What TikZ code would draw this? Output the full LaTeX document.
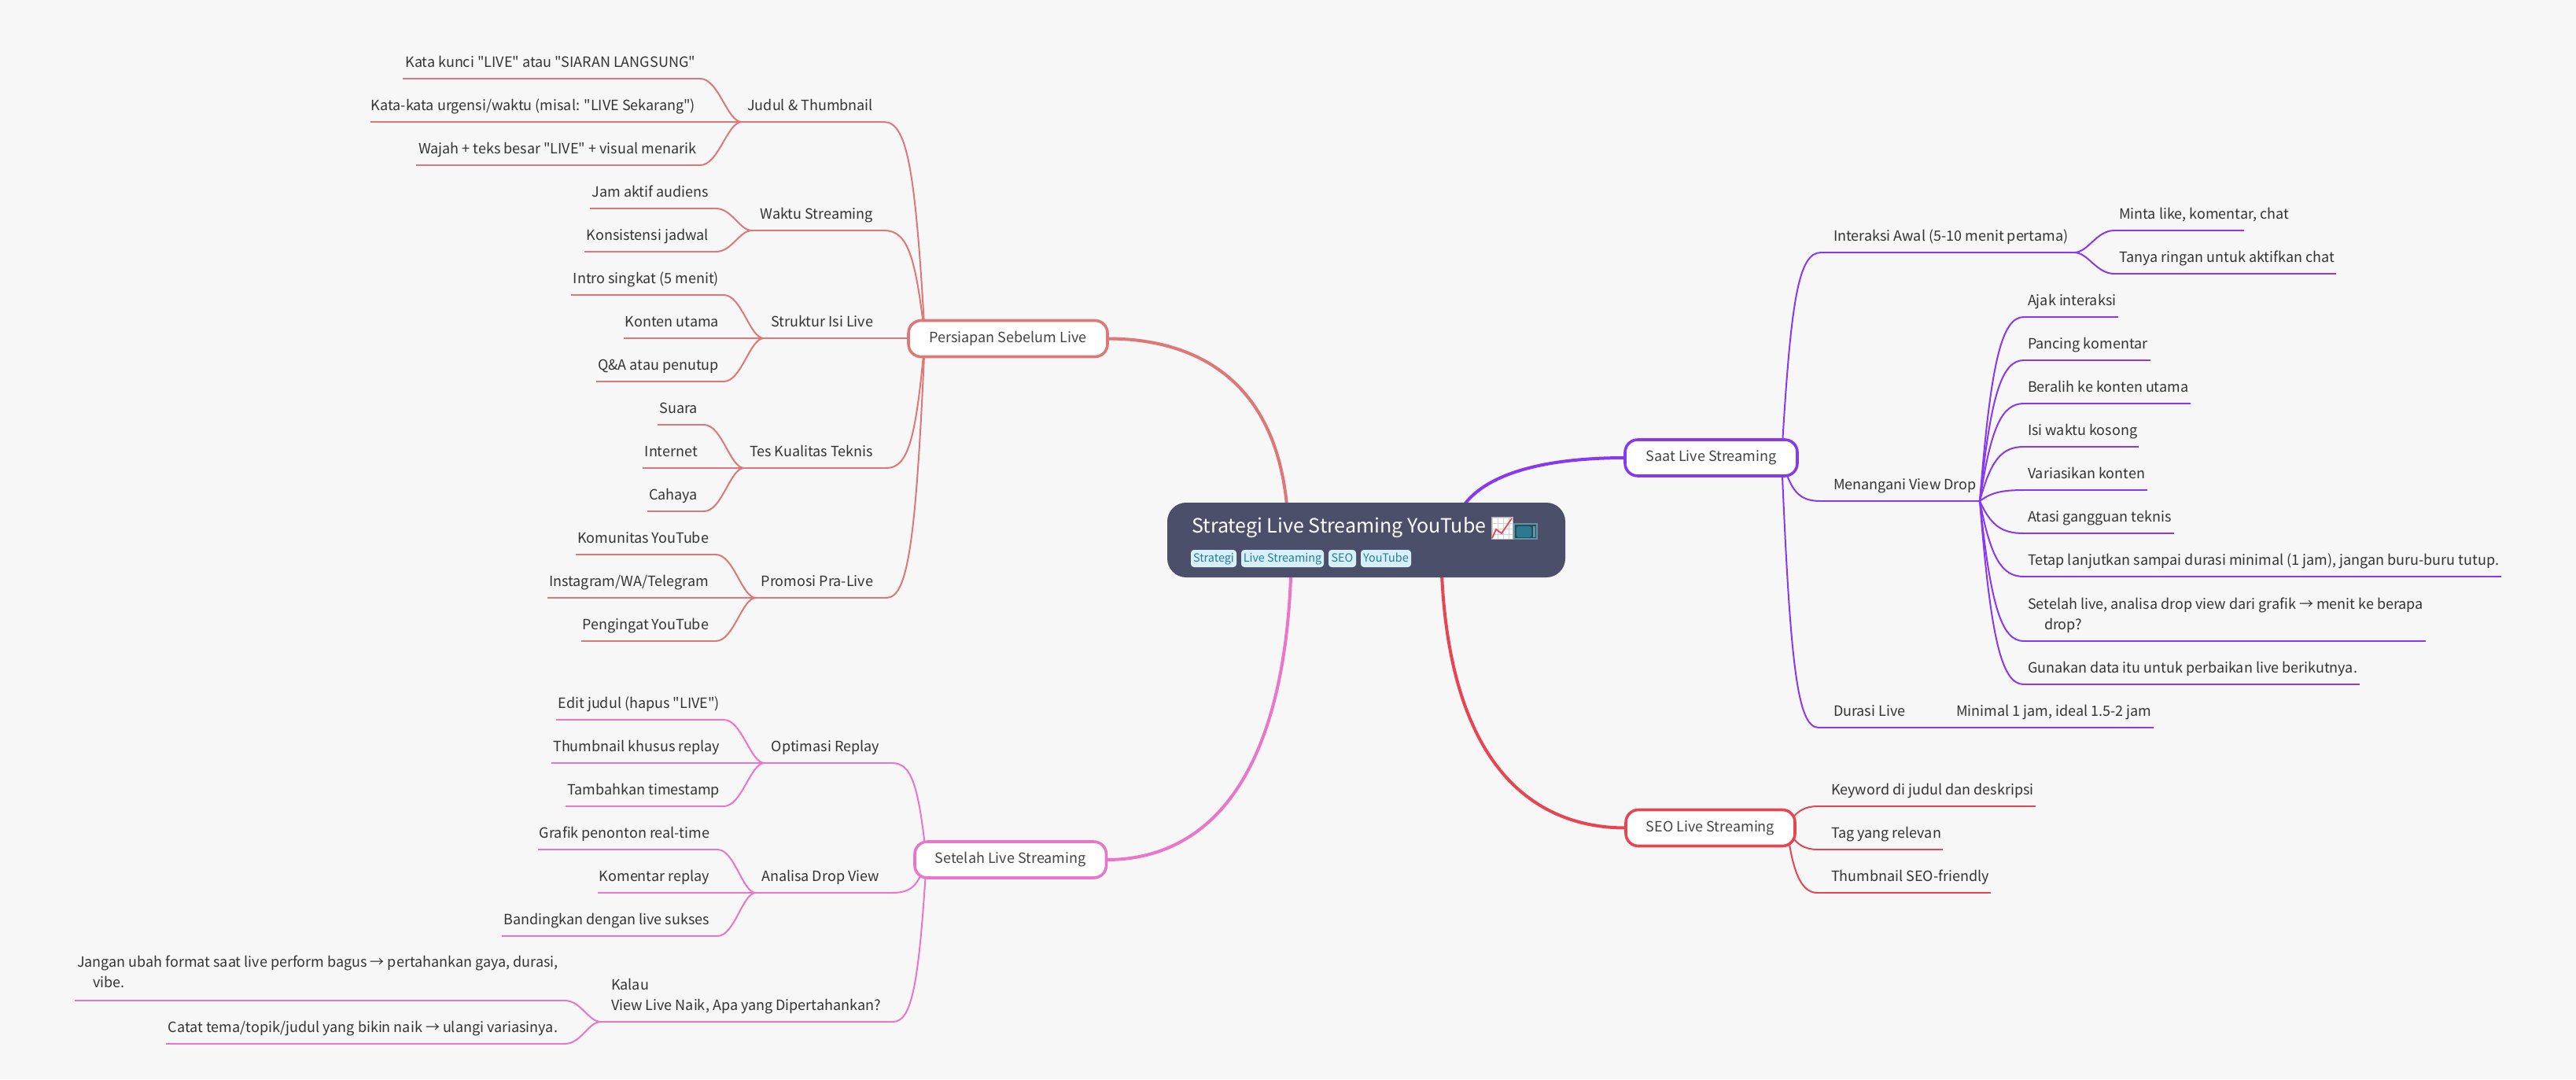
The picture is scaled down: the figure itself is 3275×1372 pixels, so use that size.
\documentclass[tikz,border=0pt]{standalone}
\usepackage{fontspec}
\newfontfamily\srcfont{Noto Sans CJK SC}
\usetikzlibrary{calc}
\pgfdeclarelayer{bottom}
\pgfdeclarelayer{lines}
\pgfsetlayers{bottom,lines,main}
\definecolor{csal}{HTML}{DD7878}
\definecolor{cpur}{HTML}{8839EF}
\definecolor{cred}{HTML}{E64553}
\definecolor{cpin}{HTML}{EA76CB}
\definecolor{croot}{HTML}{4C4F69}
\definecolor{cbg}{HTML}{F7F7F7}
\definecolor{ctext}{HTML}{333333}
\definecolor{cmain}{HTML}{444444}
\definecolor{ctag}{HTML}{D6F0F8}
\definecolor{ctagt}{HTML}{2A7A98}
\definecolor{tvframe}{HTML}{5E95A8}
\definecolor{tvbody}{HTML}{2B4A5A}
\definecolor{tvscreen}{HTML}{2B7A90}
\tikzset{
  lab/.style={inner sep=0pt,outer sep=0pt,text=ctext,font=\srcfont\fontsize{9}{13}\selectfont},
  lsal/.style={draw=csal,line width=1pt},
  lpur/.style={draw=cpur,line width=1pt},
  lred/.style={draw=cred,line width=1pt},
  lpin/.style={draw=cpin,line width=1pt},
  trunk/.style={line width=2pt},
  mainbox/.style={rectangle,rounded corners=8pt,fill=white,line width=1.8pt,inner sep=0pt,outer sep=0pt,
    text=cmain,font=\srcfont\fontsize{9}{13}\selectfont,minimum height=23pt,text height=7pt,text depth=2.5pt},
  tagbox/.style={rectangle,rounded corners=2pt,fill=ctag,text=ctagt,inner sep=0pt,outer sep=0pt,
    font=\srcfont\fontsize{7.2}{10}\selectfont,minimum height=11pt,text height=6pt,text depth=1.6pt},
}
% style, name, anchor, text x, line y, line x0, line x1, text
\newcommand{\tleaf}[8]{%
  \node[lab,anchor=base #3] (#2) at (#4,#5-15) {#8};
  \coordinate (#2-a) at (#6,#5);
  \coordinate (#2-b) at (#7,#5);
  \begin{pgfonlayer}{lines}\draw[#1] (#2-a) -- (#2-b);\end{pgfonlayer}}
% style, from, to, p, q, r
\newcommand{\clink}[6]{%
  \path ($(#2)!#4!(#3|-#2)$) coordinate (u1) ($(#2)!#5!(#3|-#2)$) coordinate (u2) ($(#2)!#6!(#2|-#3)$) coordinate (u3);
  \begin{pgfonlayer}{lines}\draw[#1] (#2) .. controls (u1) and (u2|-u3) .. (#3);\end{pgfonlayer}}
\newcommand{\sbranch}[3]{\clink{#1}{#2}{#3}{.58}{.77}{.24}}
\newcommand{\sleaf}[3]{\clink{#1}{#2}{#3}{.45}{.65}{1}}
\newcommand{\two}[2]{\vbox{\baselineskip=13pt\lineskiplimit=-20pt\hbox{#1}\hbox{#2}}}
\begin{document}
\begin{tikzpicture}[x=0.5pt,y=-0.5pt]
\useasboundingbox (0,0) rectangle (3275,1372);
\begin{pgfonlayer}{bottom}\fill[cbg] (0,0) rectangle (3275,1372);\end{pgfonlayer}

% root
\node[rectangle,fill=croot,rounded corners=12pt,minimum width=253pt,minimum height=47.5pt,inner sep=0pt] (root) at (1737,686.5) {};
\node[anchor=base west,inner sep=0pt,text=white,font=\srcfont\fontsize{12.5}{16}\selectfont] (title) at (1515,677) {Strategi Live Streaming YouTube};
\node[tagbox,minimum width=29pt] (t1) at (1543,710) {Strategi};
\node[tagbox,minimum width=52.5pt] (t2) at (1630.5,710) {Live Streaming};
\node[tagbox,minimum width=17.5pt] (t3) at (1706.5,710) {SEO};
\node[tagbox,minimum width=32pt] (t4) at (1762,710) {YouTube};
% chart emoji
\fill[white] (1896,657) rectangle (1923,685);
\draw[gray!35,line width=.3pt,step=3.5pt] (1896,657) grid (1923,685);
\draw[gray!60,line width=.5pt] (1896,657) rectangle (1923,685);
\draw[cred,line width=.9pt] (1897,684) -- (1902,673) -- (1909,678) -- (1922,659);
% tv emoji
\fill[tvbody] (1925,666) rectangle (1954,685);
\draw[tvframe,line width=.6pt] (1925,666) rectangle (1954,685);
\fill[tvscreen,rounded corners=1.5pt] (1928,669) rectangle (1947,683);
\fill[tvframe] (1949,669) rectangle (1952,683);

\coordinate (rootP) at (1638,686);
\coordinate (rootA) at (1642,686);
\coordinate (rootB) at (1832,686);
\coordinate (rootC) at (1846,690);

% main nodes
\node[mainbox,draw=csal,minimum width=126.5pt] (per) at (1281.5,430.5) {Persiapan Sebelum Live\hspace{1.5pt}};
\node[mainbox,draw=cpur,minimum width=109.5pt] (saat) at (2175.5,582) {Saat Live Streaming\hspace{2pt}};
\node[mainbox,draw=cred,minimum width=107.5pt] (seo) at (2174.5,1052.5) {SEO Live Streaming\hspace{2.5pt}};
\node[mainbox,draw=cpin,minimum width=121.75pt] (set) at (1284.75,1093) {Setelah Live Streaming\hspace{2.5pt}};

\clink{lsal,trunk}{per.east}{rootP}{.54}{1}{.25}
\clink{lpin,trunk}{set.east}{rootA}{.54}{1}{.25}
\clink{lpur,trunk}{saat.west}{rootC}{.54}{1}{.25}
\clink{lred,trunk}{seo.west}{rootB}{.54}{1}{.25}

\coordinate (perIn) at (1176,430);
\coordinate (setIn) at (1178,1093);
\coordinate (saatIn) at (2265,582);
\coordinate (seoIn) at (2272,1052);

% Persiapan
\tleaf{lsal}{b1}{east}{1110}{155}{943}{1124}{Judul \& Thumbnail}
\sbranch{lsal}{b1-b}{perIn}
\tleaf{lsal}{l11}{east}{884}{100}{512}{890}{Kata kunci "LIVE" atau "SIARAN LANGSUNG"}
\tleaf{lsal}{l12}{east}{884}{155}{471}{943}{Kata-kata urgensi/waktu (misal: "LIVE Sekarang")}
\tleaf{lsal}{l13}{east}{885}{210}{529}{890}{Wajah + teks besar "LIVE" + visual menarik}
\sleaf{lsal}{l11-b}{b1-a}
\sleaf{lsal}{l13-b}{b1-a}

\tleaf{lsal}{b2}{east}{1110}{293}{956}{1124}{Waktu Streaming}
\sbranch{lsal}{b2-b}{perIn}
\tleaf{lsal}{l21}{east}{901}{265}{750}{910}{Jam aktif audiens}
\tleaf{lsal}{l22}{east}{901}{320}{743}{910}{Konsistensi jadwal}
\sleaf{lsal}{l21-b}{b2-a}
\sleaf{lsal}{l22-b}{b2-a}

\tleaf{lsal}{b3}{east}{1110}{430}{971}{1154}{Struktur Isi Live}
\tleaf{lsal}{l31}{east}{914}{375}{726}{920}{Intro singkat (5 menit)}
\tleaf{lsal}{l32}{east}{914}{430}{793}{971}{Konten utama}
\tleaf{lsal}{l33}{east}{914}{485}{758}{920}{Q\&A atau penutup}
\sleaf{lsal}{l31-b}{b3-a}
\sleaf{lsal}{l33-b}{b3-a}

\tleaf{lsal}{b4}{east}{1110}{595}{946}{1127}{Tes Kualitas Teknis}
\sbranch{lsal}{b4-b}{perIn}
\tleaf{lsal}{l41}{east}{887}{540}{836}{895}{Suara}
\tleaf{lsal}{l42}{east}{887}{595}{817}{946}{Internet}
\tleaf{lsal}{l43}{east}{887}{650}{823}{895}{Cahaya}
\sleaf{lsal}{l41-b}{b4-a}
\sleaf{lsal}{l43-b}{b4-a}

\tleaf{lsal}{b5}{east}{1110}{760}{961}{1127}{Promosi Pra-Live}
\sbranch{lsal}{b5-b}{perIn}
\tleaf{lsal}{l51}{east}{901}{705}{732}{910}{Komunitas YouTube}
\tleaf{lsal}{l52}{east}{901}{760}{696}{961}{Instagram/WA/Telegram}
\tleaf{lsal}{l53}{east}{901}{815}{739}{910}{Pengingat YouTube}
\sleaf{lsal}{l51-b}{b5-a}
\sleaf{lsal}{l53-b}{b5-a}

% Setelah
\tleaf{lpin}{c1}{east}{1118}{970}{972}{1134}{Optimasi Replay}
\sbranch{lpin}{c1-b}{setIn}
\tleaf{lpin}{m11}{east}{915}{915}{707}{920}{Edit judul (hapus "LIVE")}
\tleaf{lpin}{m12}{east}{915}{970}{701}{972}{Thumbnail khusus replay}
\tleaf{lpin}{m13}{east}{915}{1025}{719}{920}{Tambahkan timestamp}
\sleaf{lpin}{m11-b}{c1-a}
\sleaf{lpin}{m13-b}{c1-a}

\tleaf{lpin}{c2}{east}{1118}{1135}{961}{1134}{Analisa Drop View}
\sbranch{lpin}{c2-b}{setIn}
\tleaf{lpin}{m21}{east}{902}{1080}{684}{912}{Grafik penonton real-time}
\tleaf{lpin}{m22}{east}{902}{1135}{760}{961}{Komentar replay}
\tleaf{lpin}{m23}{east}{902}{1190}{638}{912}{Bandingkan dengan live sukses}
\sleaf{lpin}{m21-b}{c2-a}
\sleaf{lpin}{m23-b}{c2-a}

\tleaf{lpin}{c3}{west}{777}{1299}{764}{1135}{\two{Kalau}{View Live Naik, Apa yang Dipertahankan?}}
\sbranch{lpin}{c3-b}{setIn}
\tleaf{lpin}{m31}{west}{98}{1272}{95}{718}{\raisebox{1pt}{\two{Jangan ubah format saat live perform bagus → pertahankan gaya, durasi,}{\hspace*{10pt}vibe.}}}
\tleaf{lpin}{m32}{east}{709}{1327}{211}{718}{Catat tema/topik/judul yang bikin naik → ulangi variasinya.}
\sleaf{lpin}{m31-b}{c3-a}
\sleaf{lpin}{m32-b}{c3-a}

% Saat
\tleaf{lpur}{d1}{west}{2331}{321}{2315}{2637}{Interaksi Awal (5-10 menit pertama)}
\sbranch{lpur}{d1-a}{saatIn}
\tleaf{lpur}{n11}{west}{2694}{293}{2688}{2853}{Minta like, komentar, chat}
\tleaf{lpur}{n12}{west}{2694}{348}{2688}{2970}{Tanya ringan untuk aktifkan chat}
\sleaf{lpur}{n11-a}{d1-b}
\sleaf{lpur}{n12-a}{d1-b}

\tleaf{lpur}{d2}{west}{2331}{637}{2315}{2517}{Menangani View Drop}
\sbranch{lpur}{d2-a}{saatIn}
\tleaf{lpur}{n21}{west}{2578}{403}{2573}{2693}{Ajak interaksi}
\tleaf{lpur}{n22}{west}{2578}{458}{2573}{2734}{Pancing komentar}
\tleaf{lpur}{n23}{west}{2578}{513}{2573}{2785}{Beralih ke konten utama}
\tleaf{lpur}{n24}{west}{2578}{568}{2573}{2719}{Isi waktu kosong}
\tleaf{lpur}{n25}{west}{2578}{623}{2573}{2730}{Variasikan konten}
\tleaf{lpur}{n26}{west}{2578}{678}{2573}{2764}{Atasi gangguan teknis}
\tleaf{lpur}{n27}{west}{2578}{733}{2573}{3180}{Tetap lanjutkan sampai durasi minimal (1 jam), jangan buru-buru tutup.}
\tleaf{lpur}{n28}{west}{2578}{815}{2573}{3084}{\two{Setelah live, analisa drop view dari grafik → menit ke berapa}{\hspace*{10.5pt}drop?}}
\tleaf{lpur}{n29}{west}{2578}{870}{2573}{3000}{Gunakan data itu untuk perbaikan live berikutnya.}
\foreach \k in {1,...,9}{\clink{lpur}{n2\k-a}{d2-b}{.5}{.75}{.24}}

\tleaf{lpur}{d3}{west}{2331}{925}{2312}{2738}{Durasi Live}
\sbranch{lpur}{d3-a}{saatIn}
\node[lab,anchor=base west] (n31) at (2487,910) {Minimal 1 jam, ideal 1.5-2 jam};

% SEO
\tleaf{lred}{e1}{west}{2328}{1025}{2311}{2588}{Keyword di judul dan deskripsi}
\tleaf{lred}{e2}{west}{2328}{1080}{2311}{2470}{Tag yang relevan}
\tleaf{lred}{e3}{west}{2328}{1135}{2311}{2531}{Thumbnail SEO-friendly}
\clink{lred}{e1-a}{seoIn}{.4}{.75}{.2}
\clink{lred}{e2-a}{seoIn}{.4}{.75}{.2}
\clink{lred}{e3-a}{seoIn}{.45}{.8}{.2}
\end{tikzpicture}
\end{document}
